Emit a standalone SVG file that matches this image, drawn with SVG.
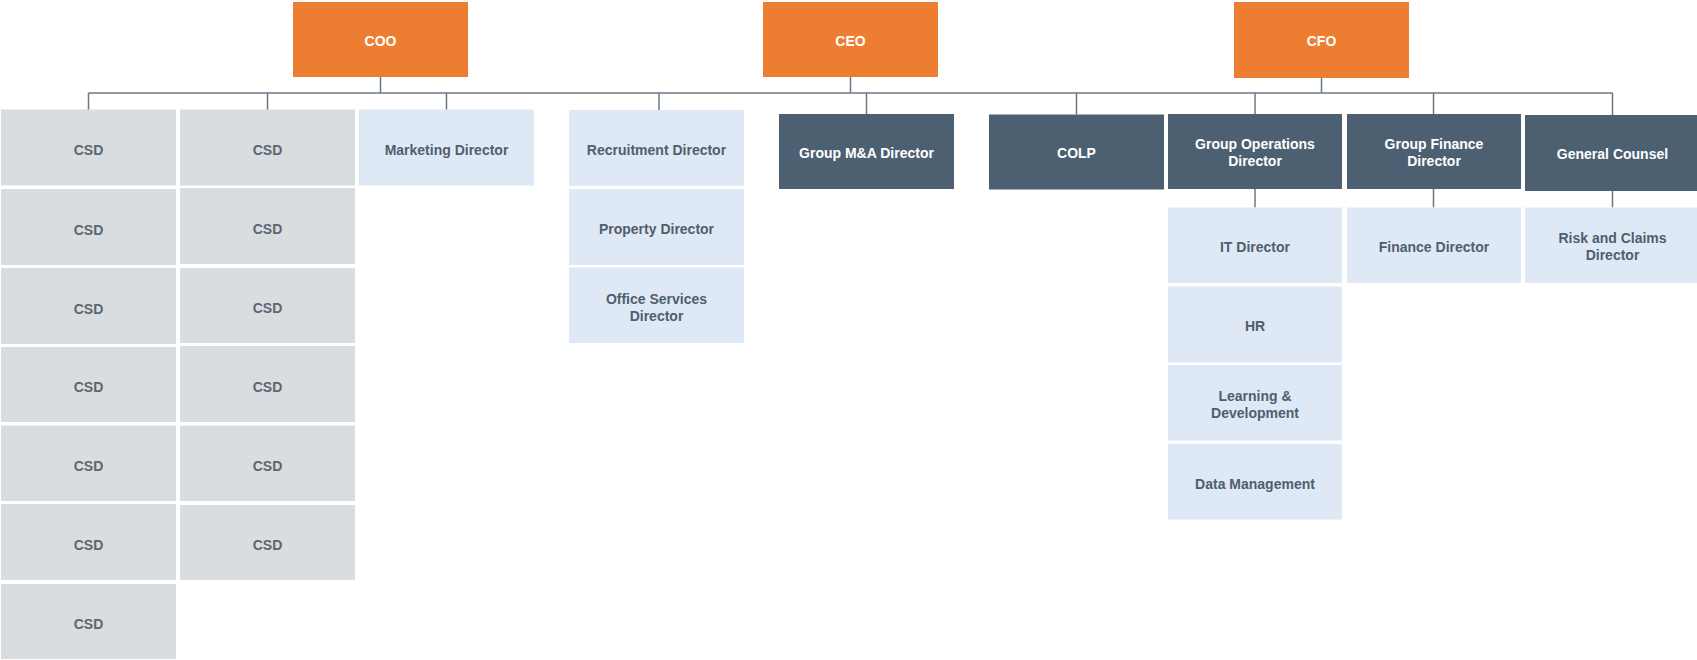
<svg xmlns="http://www.w3.org/2000/svg" width="1697" height="660" viewBox="0 0 1697 660">
  <style>
    text { font-family: "Liberation Sans", Arial, sans-serif; font-weight: bold; font-size: 14px; text-anchor: middle; }
    .exec rect { fill: #ED7D31; }
    .exec text { fill: #FFFFFF; }
    .dark rect { fill: #4C6072; }
    .dark text { fill: #FFFFFF; }
    .light rect { fill: #DEE9F5; }
    .light text { fill: #4F5E6F; }
    .csd rect { fill: #D9DDE0; }
    .csd text { fill: #5C6672; }
    #connectors path { fill: none; stroke: #6B7785; stroke-width: 1.5; }
  </style>
  <rect width="1697" height="660" fill="#FFFFFF"/>

  <g id="connectors">
    <!-- executive stems and shared bus -->
    <path d="M380.5 77 V93 M850.5 77 V93 M1321.5 78 V93"/>
    <path d="M88.5 93 H1612.5"/>
    <!-- drops to second level -->
    <path d="M88.5 93 V110 M267.5 93 V110 M446.5 93 V110 M659 93 V110 M866.5 93 V114 M1076.5 93 V114.5 M1255 93 V114 M1433.5 93 V114 M1612.5 93 V115"/>
    <!-- drops to third level -->
    <path d="M1255 189 V207.5 M1433.5 189 V207.5 M1612.5 191 V207.5"/>
  </g>

  <!-- executives -->
  <g id="coo" class="exec"><rect x="293" y="2" width="175" height="75"/><text x="380.5" y="45.5">COO</text></g>
  <g id="ceo" class="exec"><rect x="763" y="2" width="175" height="75"/><text x="850.5" y="45.5">CEO</text></g>
  <g id="cfo" class="exec"><rect x="1234" y="2" width="175" height="76"/><text x="1321.5" y="46">CFO</text></g>

  <!-- CSD column 1 -->
  <g id="csd-1-1" class="csd"><rect x="1" y="109.5" width="175" height="76"/><text x="88.5" y="155">CSD</text></g>
  <g id="csd-1-2" class="csd"><rect x="1" y="189" width="175" height="76"/><text x="88.5" y="234.5">CSD</text></g>
  <g id="csd-1-3" class="csd"><rect x="1" y="268" width="175" height="76"/><text x="88.5" y="313.5">CSD</text></g>
  <g id="csd-1-4" class="csd"><rect x="1" y="347" width="175" height="75"/><text x="88.5" y="392">CSD</text></g>
  <g id="csd-1-5" class="csd"><rect x="1" y="425.5" width="175" height="75.5"/><text x="88.5" y="470.5">CSD</text></g>
  <g id="csd-1-6" class="csd"><rect x="1" y="504" width="175" height="76"/><text x="88.5" y="549.5">CSD</text></g>
  <g id="csd-1-7" class="csd"><rect x="1" y="584" width="175" height="75"/><text x="88.5" y="629">CSD</text></g>

  <!-- CSD column 2 -->
  <g id="csd-2-1" class="csd"><rect x="180" y="109.5" width="175" height="76"/><text x="267.5" y="155">CSD</text></g>
  <g id="csd-2-2" class="csd"><rect x="180" y="188" width="175" height="76"/><text x="267.5" y="233.5">CSD</text></g>
  <g id="csd-2-3" class="csd"><rect x="180" y="268" width="175" height="75"/><text x="267.5" y="313">CSD</text></g>
  <g id="csd-2-4" class="csd"><rect x="180" y="346" width="175" height="76"/><text x="267.5" y="391.5">CSD</text></g>
  <g id="csd-2-5" class="csd"><rect x="180" y="425.5" width="175" height="75.5"/><text x="267.5" y="470.5">CSD</text></g>
  <g id="csd-2-6" class="csd"><rect x="180" y="505" width="175" height="75"/><text x="267.5" y="550">CSD</text></g>

  <g id="marketing-director" class="light"><rect x="359" y="109.5" width="175" height="76"/><text x="446.5" y="154.5">Marketing Director</text></g>

  <!-- CEO reports -->
  <g id="recruitment-director" class="light"><rect x="569" y="110" width="175" height="76"/><text x="656.5" y="155">Recruitment Director</text></g>
  <g id="property-director" class="light"><rect x="569" y="189" width="175" height="76"/><text x="656.5" y="234">Property Director</text></g>
  <g id="office-services-director" class="light"><rect x="569" y="267.5" width="175" height="75.5"/><text x="656.5" y="304">Office Services</text><text x="656.5" y="320.5">Director</text></g>
  <g id="group-ma-director" class="dark"><rect x="779" y="114" width="175" height="75"/><text x="866.5" y="158">Group M&amp;A Director</text></g>

  <!-- CFO reports -->
  <g id="colp" class="dark"><rect x="989" y="114.5" width="175" height="75"/><text x="1076.5" y="158">COLP</text></g>
  <g id="group-operations-director" class="dark"><rect x="1168" y="114" width="174" height="75"/><text x="1255" y="148.5">Group Operations</text><text x="1255" y="165.5">Director</text></g>
  <g id="group-finance-director" class="dark"><rect x="1347" y="114" width="174" height="75"/><text x="1434" y="148.5">Group Finance</text><text x="1434" y="165.5">Director</text></g>
  <g id="general-counsel" class="dark"><rect x="1525" y="115" width="175" height="76"/><text x="1612.5" y="159">General Counsel</text></g>

  <!-- third level -->
  <g id="it-director" class="light"><rect x="1168" y="207.5" width="174" height="75.5"/><text x="1255" y="251.5">IT Director</text></g>
  <g id="hr" class="light"><rect x="1168" y="286.5" width="174" height="76"/><text x="1255" y="331">HR</text></g>
  <g id="learning-development" class="light"><rect x="1168" y="365" width="174" height="75.5"/><text x="1255" y="401">Learning &amp;</text><text x="1255" y="417.5">Development</text></g>
  <g id="data-management" class="light"><rect x="1168" y="444" width="174" height="75.5"/><text x="1255" y="488.5">Data Management</text></g>
  <g id="finance-director" class="light"><rect x="1347" y="207.5" width="174" height="75.5"/><text x="1434" y="251.5">Finance Director</text></g>
  <g id="risk-claims-director" class="light"><rect x="1525" y="207.5" width="175" height="75.5"/><text x="1612.5" y="243">Risk and Claims</text><text x="1612.5" y="259.5">Director</text></g>
</svg>
